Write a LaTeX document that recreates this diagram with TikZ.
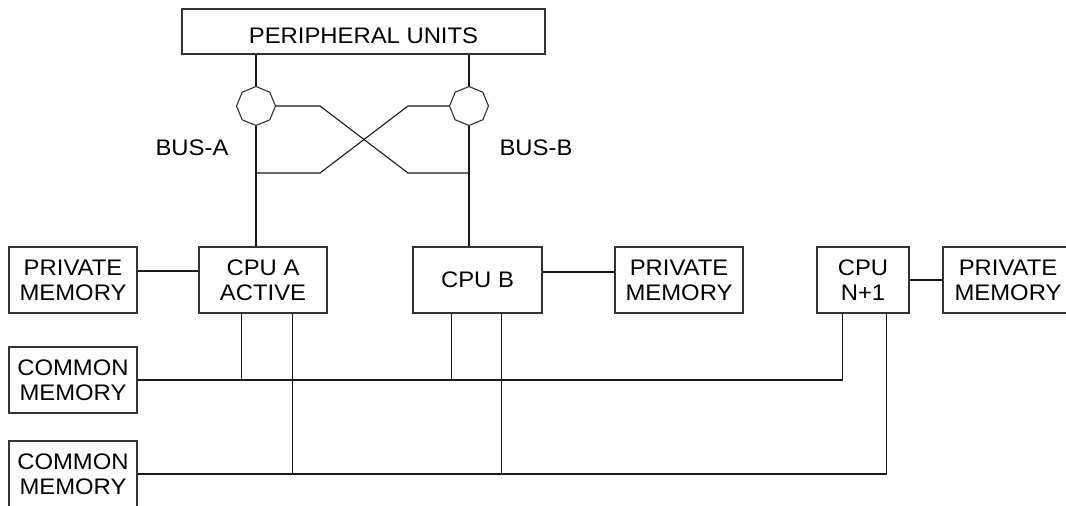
\documentclass[tikz,border=0pt]{standalone}
\usepackage{fontspec}
\setmainfont{Liberation Sans}[FakeStretch=1.06]
\usetikzlibrary{shapes.geometric,calc}
\begin{document}
\begin{tikzpicture}[x=1pt,y=-1pt,
  box/.style={draw=black!80,line width=1.1pt,inner sep=0pt,align=center,font=\fontsize{22.5}{25}\selectfont},
  oct/.style={draw=black!80,line width=1.1pt,regular polygon,regular polygon sides=8,shape border rotate=22.5,minimum size=39pt,inner sep=0pt},
  wire/.style={draw=black!90,line width=1.1pt},
  lbl/.style={font=\fontsize{22.5}{25}\selectfont,inner sep=0pt}]
\useasboundingbox[fill=white] (0,0) rectangle (1066,506);
\node[box,minimum width=363pt,minimum height=45pt,text height=24pt,text depth=0pt] (periph) at (363.5,31.5) {PERIPHERAL UNITS};
\node[oct] (octA) at (256,106) {};
\node[oct] (octB) at (469,106) {};
\node[lbl] (busA) at (192,148) {BUS-A};
\node[lbl] (busB) at (536,148) {BUS-B};
\node[box,minimum width=128pt,minimum height=66pt] (privA) at (73,280) {PRIVATE\\MEMORY};
\node[box,minimum width=128pt,minimum height=66pt] (cpuA) at (263,280) {CPU A\\ACTIVE};
\node[box,minimum width=129pt,minimum height=66pt] (cpuB) at (477.5,280) {CPU B};
\node[box,minimum width=128pt,minimum height=66pt] (privB) at (679,280) {PRIVATE\\MEMORY};
\node[box,minimum width=92pt,minimum height=66pt] (cpuN) at (863,280) {CPU\\N+1};
\node[box,minimum width=130pt,minimum height=66pt] (privN) at (1008,280) {PRIVATE\\MEMORY};
\node[box,minimum width=128pt,minimum height=66pt] (com1) at (73,380) {COMMON\\MEMORY};
\node[box,minimum width=128pt,minimum height=66pt] (com2) at (73,474) {COMMON\\MEMORY};
% bus A / B
\draw[wire] (periph.south -| octA) -- (octA.north);
\draw[wire] (periph.south -| octB) -- (octB.north);
\draw[wire] (octA.south) -- (octA.south |- cpuA.north);
\draw[wire] (octB.south) -- (octB.south |- cpuB.north);
\coordinate (jA) at (256,173);
\coordinate (jB) at (469,173);
\draw[wire] (octA.east) -- (320,106) -- (408,173) -- (jB);
\draw[wire] (octB.west) -- (408,106) -- (320,173) -- (jA);
% private memories
\draw[wire] (privA.east |- 0,271) -- (cpuA.west |- 0,271);
\draw[wire] (cpuB.east |- 0,272) -- (privB.west |- 0,272);
\draw[wire] (cpuN.east) -- (privN.west);
% common memory buses
\coordinate (a1) at ($(cpuA.south west)+(43,0)$);
\coordinate (a2) at ($(cpuA.south west)+(94,0)$);
\coordinate (b1) at ($(cpuB.south west)+(39,0)$);
\coordinate (b2) at ($(cpuB.south west)+(89,0)$);
\coordinate (n1) at ($(cpuN.south west)+(26,0)$);
\coordinate (n2) at ($(cpuN.south west)+(70,0)$);
\draw[wire] (com1.east) -| (n1);
\draw[wire] (com2.east) -| (n2);
\draw[wire] (a1) -- (a1 |- com1.east);
\draw[wire] (b1) -- (b1 |- com1.east);
\draw[wire] (a2) -- (a2 |- com2.east);
\draw[wire] (b2) -- (b2 |- com2.east);
\end{tikzpicture}
\end{document}
